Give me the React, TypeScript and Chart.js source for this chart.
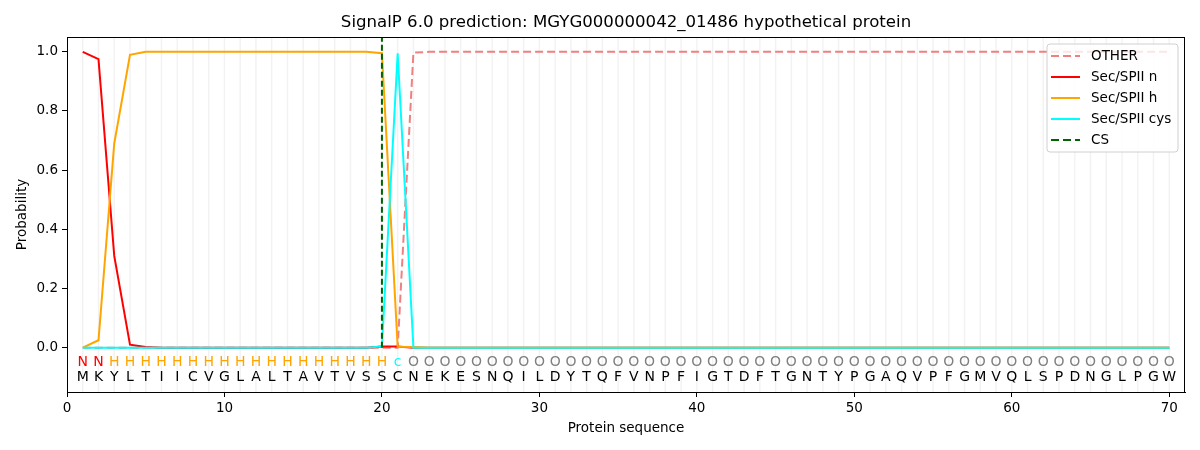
import Chart from "chart.js/auto";
import { useEffect, useRef } from "react";

const sequence = "MKYLTIICVGLALTAVTVSSCNEKESNQILDYTQFVNPFIGTDFTGNTYPGAQVPFGMVQLSPDNGLPGW".split("");
const regionLabels = "NNHHHHHHHHHHHHHHHHHHcOOOOOOOOOOOOOOOOOOOOOOOOOOOOOOOOOOOOOOOOOOOOOOOOO".split("");
const positions = sequence.map((_, i) => i + 1);

const zeros = (n: number) => new Array(n).fill(0);
const ones = (n: number) => new Array(n).fill(1);

const otherProb = [...zeros(21), 0.997, ...ones(48)];
const nProb = [1.0, 0.975, 0.31, 0.01, 0.002, ...zeros(14), 0.004, 0.004, ...zeros(49)];
const hProb = [0.0, 0.025, 0.69, 0.99, ...ones(15), 0.995, 0.003, 0.002, ...zeros(48)];
const cysProb = [...zeros(19), 0.004, 0.995, ...zeros(49)];
const cleavageSite = 20;

const yTicks = [0, 0.2, 0.4, 0.6, 0.8, 1.0];

const labelColors: Record<string, string> = {
  N: "#ff0000",
  H: "#ffa500",
  c: "#00ffff",
  O: "#808080",
};

const FONT = "'DejaVu Sans', sans-serif";

const legendItems = [
  { label: "OTHER", color: "#f08080", dash: [8, 4] },
  { label: "Sec/SPII n", color: "#ff0000", dash: [] as number[] },
  { label: "Sec/SPII h", color: "#ffa500", dash: [] as number[] },
  { label: "Sec/SPII cys", color: "#00ffff", dash: [] as number[] },
  { label: "CS", color: "#006400", dash: [8, 4] },
];

const decorPlugin = {
  id: "decor",
  beforeDatasetsDraw(chart: any) {
    const { ctx, chartArea } = chart;
    const xs = chart.scales.x;
    ctx.save();
    ctx.strokeStyle = "rgba(0,0,0,0.05)";
    ctx.lineWidth = 1.5;
    positions.forEach((p) => {
      const px = xs.getPixelForValue(p);
      ctx.beginPath();
      ctx.moveTo(px, chartArea.top);
      ctx.lineTo(px, chartArea.bottom);
      ctx.stroke();
    });
    ctx.restore();
  },
  afterDatasetsDraw(chart: any) {
    const { ctx, chartArea } = chart;
    const xs = chart.scales.x;
    const ys = chart.scales.y;
    ctx.save();
    ctx.font = `14px ${FONT}`;
    ctx.textAlign = "center";
    ctx.textBaseline = "middle";
    positions.forEach((p, i) => {
      const px = xs.getPixelForValue(p);
      ctx.fillStyle = labelColors[regionLabels[i]];
      ctx.fillText(regionLabels[i], px, ys.getPixelForValue(-0.05));
      ctx.fillStyle = "#000";
      ctx.fillText(sequence[i], px, ys.getPixelForValue(-0.1));
    });

    // frame
    ctx.strokeStyle = "#000";
    ctx.lineWidth = 1;
    ctx.strokeRect(chartArea.left + 0.5, chartArea.top + 0.5, chartArea.right - chartArea.left - 1, chartArea.bottom - chartArea.top);

    // legend
    const bx = 1047, by = 44, bw = 131, bh = 108;
    ctx.beginPath();
    ctx.roundRect(bx, by, bw, bh, 3);
    ctx.fillStyle = "rgba(255,255,255,0.8)";
    ctx.fill();
    ctx.strokeStyle = "#d0d0d0";
    ctx.stroke();
    ctx.textAlign = "left";
    ctx.font = `13.5px ${FONT}`;
    legendItems.forEach((item, i) => {
      const y = 56 + i * 21;
      ctx.beginPath();
      ctx.setLineDash(item.dash);
      ctx.strokeStyle = item.color;
      ctx.lineWidth = 2;
      ctx.moveTo(1051, y);
      ctx.lineTo(1080, y);
      ctx.stroke();
      ctx.setLineDash([]);
      ctx.fillStyle = "#000";
      ctx.fillText(item.label, 1091, y);
    });

    // titles
    const cx = (chartArea.left + chartArea.right) / 2;
    ctx.textAlign = "center";
    ctx.font = `16.6px ${FONT}`;
    ctx.fillText("SignalP 6.0 prediction: MGYG000000042_01486 hypothetical protein", cx, 23);
    ctx.font = `13.5px ${FONT}`;
    ctx.fillText("Protein sequence", cx, 428);
    ctx.translate(22, (chartArea.top + chartArea.bottom) / 2);
    ctx.rotate(-Math.PI / 2);
    ctx.fillText("Probability", 0, 0);
    ctx.restore();
  },
};

export default function App() {
  const canvasRef = useRef<HTMLCanvasElement>(null);
  const chartRef = useRef<Chart<"line"> | null>(null);

  useEffect(() => {
    if (chartRef.current) {
      chartRef.current.destroy();
    }
    if (!canvasRef.current) return;

    const line = (label: string, values: number[], color: string, order: number, dash: number[] = []) => ({
      label,
      data: positions.map((p, i) => ({ x: p, y: values[i] })),
      borderColor: color,
      backgroundColor: color,
      borderWidth: 2,
      borderDash: dash,
      pointRadius: 0,
      fill: false,
      tension: 0,
      order,
    });

    chartRef.current = new Chart(canvasRef.current, {
      type: "line",
      data: {
        datasets: [
          line("OTHER", otherProb, "#f08080", 5, [8, 4]),
          line("Sec/SPII n", nProb, "#ff0000", 4),
          line("Sec/SPII h", hProb, "#ffa500", 3),
          line("Sec/SPII cys", cysProb, "#00ffff", 2),
          {
            label: "CS",
            data: [
              { x: cleavageSite, y: 0 },
              { x: cleavageSite, y: 1.05 },
            ],
            borderColor: "#006400",
            backgroundColor: "#006400",
            borderWidth: 2,
            borderDash: [6, 3],
            pointRadius: 0,
            fill: false,
            order: 1,
          },
        ] as any,
      },
      options: {
        animation: false,
        responsive: true,
        maintainAspectRatio: false,
        layout: { padding: { top: 37, right: 15, left: 0, bottom: 0 } },
        plugins: {
          legend: { display: false },
          tooltip: { enabled: false },
        },
        scales: {
          x: {
            type: "linear",
            min: 0,
            max: 71,
            afterFit: (scale: any) => {
              scale.height = 58;
            },
            ticks: {
              stepSize: 1,
              autoSkip: false,
              maxRotation: 0,
              color: "#000",
              font: { family: FONT, size: 13.5 },
              padding: 3,
              callback: (v: any) => (Number(v) % 10 === 0 && Number(v) <= 70 ? String(v) : ""),
            },
            grid: {
              drawOnChartArea: false,
              tickLength: 5,
              tickColor: (ctx: any) =>
                ctx.tick && ctx.tick.value % 10 === 0 && ctx.tick.value <= 70 ? "#000" : "rgba(0,0,0,0)",
            },
            border: { color: "#000" },
          },
          y: {
            type: "linear",
            min: -0.15,
            max: 1.05,
            afterBuildTicks: (scale: any) => {
              scale.ticks = yTicks.map((v) => ({ value: v }));
            },
            afterFit: (scale: any) => {
              scale.width = 67;
            },
            ticks: {
              color: "#000",
              font: { family: FONT, size: 13.5 },
              padding: 4,
              callback: (v: any) => Number(v).toFixed(1),
            },
            grid: {
              drawOnChartArea: false,
              tickLength: 5,
              tickColor: "#000",
            },
            border: { color: "#000" },
          },
        },
      },
      plugins: [decorPlugin],
    });

    return () => {
      if (chartRef.current) {
        chartRef.current.destroy();
        chartRef.current = null;
      }
    };
  }, []);

  return (
    <div style={{ position: "absolute", left: 0, top: 0, width: 1200, height: 450, background: "#fff" }}>
      <canvas ref={canvasRef}></canvas>
    </div>
  );
}
